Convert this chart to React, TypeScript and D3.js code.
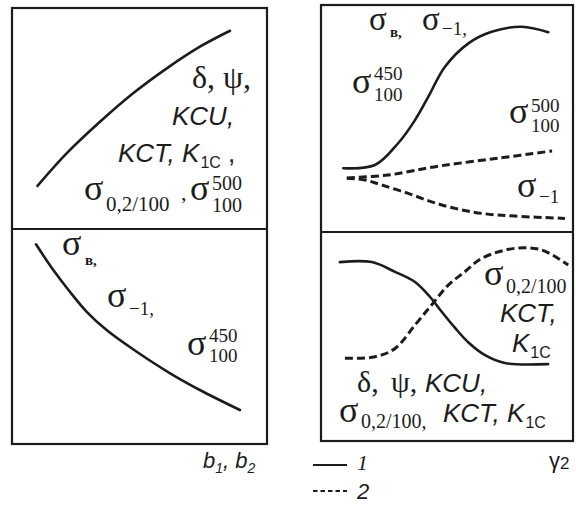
import React from 'react';
import * as d3 from 'd3';

const W = 576;
const H = 524;

// left panels: property vs b1, b2 (relative units 0..10)
const leftTopX = [1.0, 2.15, 3.45, 4.75, 6.07, 7.37, 8.55];
const leftTopY = [1.95, 3.43, 4.85, 6.14, 7.27, 8.25, 8.97];
const leftBotX = [0.94, 1.62, 2.27, 2.93, 3.71, 4.89, 6.2, 7.5, 8.94];
const leftBotY = [9.29, 8.09, 7.08, 6.15, 5.3, 4.29, 3.29, 2.43, 1.58];

// right panels: property vs gamma2
const rTopSolidX = [0.885, 2.14, 3.06, 3.73, 4.26, 4.92, 5.85, 6.77, 7.96, 9.02];
const rTopSolidY = [2.81, 2.95, 3.91, 4.93, 5.96, 7.28, 8.31, 8.82, 9.04, 8.8];
const rTopDashAX = [1.03, 2.66, 4.72, 7.1, 9.17];
const rTopDashAY = [2.38, 2.51, 2.91, 3.26, 3.57];
const rTopDashBX = [1.02, 1.75, 2.41, 3.46, 4.39, 5.32, 6.38, 7.7, 9.68];
const rTopDashBY = [2.37, 2.29, 2.07, 1.7, 1.33, 1.04, 0.82, 0.7, 0.6];
const rBotSolidX = [0.75, 2.02, 2.94, 3.73, 4.33, 4.8, 5.32, 5.83, 6.51, 7.3, 9.01];
const rBotSolidY = [8.56, 8.56, 8.09, 7.61, 6.89, 6.17, 5.41, 4.74, 4.11, 3.73, 3.68];
const rBotDashX = [0.95, 2.14, 2.94, 3.73, 4.39, 5.05, 5.71, 6.38, 7.7, 8.76, 9.81];
const rBotDashY = [3.96, 4.03, 4.43, 5.55, 6.51, 7.46, 8.1, 8.74, 9.22, 9.14, 8.42];

const legendLabels = ['1', '2'];

const INK = '#1c1c1c';
const SERIF = '"Liberation Serif", "DejaVu Serif", serif';
const SANS = '"Liberation Sans", Arial, sans-serif';

const xL = d3.scaleLinear().domain([0, 10]).range([12, 267]);
const yLT = d3.scaleLinear().domain([0, 10]).range([229, 8]);
const yLB = d3.scaleLinear().domain([0, 10]).range([444, 229]);
const xR = d3.scaleLinear().domain([0, 10]).range([321, 573]);
const yRT = d3.scaleLinear().domain([0, 10]).range([232, 5]);
const yRB = d3.scaleLinear().domain([0, 10]).range([441, 232]);

function path(xs: number[], ys: number[], sx: any, sy: any) {
  const pts = xs.map((x, i) => [x, ys[i]] as [number, number]);
  return d3.line<[number, number]>()
    .x(d => sx(d[0]))
    .y(d => sy(d[1]))
    .curve(d3.curveCatmullRom.alpha(0.5))(pts) || '';
}

// serif text (digits, delta, psi)
const S = ({ x, y, size = 30, bold = false, children }: any) => (
  <text x={x} y={y} fontFamily={SERIF} fontSize={size} fontWeight={bold ? 'bold' : 'normal'} fill={INK}>{children}</text>
);
// sigma with optional sub/superscript, x = left of glyph, y = baseline
const Sig = ({ x, y, sub, sup, size = 36, ss = 19, subDy = 8, supDy = -12, dx = 22 }: any) => (
  <g fontFamily={SERIF} fill={INK}>
    <text x={x} y={y} fontSize={size}>σ</text>
    {sup && <text x={x + dx} y={y + supDy} fontSize={ss}>{sup}</text>}
    {sub && <text x={x + dx} y={y + subDy} fontSize={ss}>{sub}</text>}
  </g>
);
// italic sans text (KCU, KCT, K1C)
const I = ({ x, y, size = 26, children }: any) => (
  <text x={x} y={y} fontFamily={SANS} fontStyle="italic" fontSize={size} fill={INK}>{children}</text>
);
const sub1C = <tspan fontStyle="normal" fontSize={16} dx={1} dy={6}>1C</tspan>;

export default function App() {
  const solid = { fill: 'none', stroke: INK, strokeWidth: 2.6, strokeLinecap: 'round' as const };
  const dashed = { ...solid, strokeWidth: 3, strokeDasharray: '8 4', strokeLinecap: 'butt' as const };

  return (
    <svg width={W} height={H} style={{ position: 'absolute', left: 0, top: 0, background: '#fff' }}>
      {/* frames */}
      <g fill="none" stroke={INK} strokeWidth={2.2}>
        <rect x={xL.range()[0]} y={yLT.range()[1]} width={xL.range()[1] - xL.range()[0]} height={yLB.range()[0] - yLT.range()[1]} />
        <line x1={xL.range()[0]} x2={xL.range()[1]} y1={yLT.range()[0]} y2={yLT.range()[0]} />
        <rect x={xR.range()[0]} y={yRT.range()[1]} width={xR.range()[1] - xR.range()[0]} height={yRB.range()[0] - yRT.range()[1]} />
        <line x1={xR.range()[0]} x2={xR.range()[1]} y1={yRT.range()[0]} y2={yRT.range()[0]} />
      </g>

      {/* curves */}
      <path d={path(leftTopX, leftTopY, xL, yLT)} {...solid} />
      <path d={path(leftBotX, leftBotY, xL, yLB)} {...solid} />
      <path d={path(rTopSolidX, rTopSolidY, xR, yRT)} {...solid} />
      <path d={path(rTopDashAX, rTopDashAY, xR, yRT)} {...dashed} />
      <path d={path(rTopDashBX, rTopDashBY, xR, yRT)} {...dashed} />
      <path d={path(rBotSolidX, rBotSolidY, xR, yRB)} {...solid} />
      <path d={path(rBotDashX, rBotDashY, xR, yRB)} {...dashed} />

      {/* left top labels */}
      <S x={192} y={88} size={32}>δ, ψ,</S>
      <I x={172} y={125}>KCU,</I>
      <I x={118} y={162}>KCT, K{sub1C}<tspan fontStyle="normal" dy={-6}> ,</tspan></I>
      <Sig x={84} y={200} sub="0,2/100" ss={21} dx={22} subDy={11} />
      <S x={181} y={200} size={22}>,</S>
      <Sig x={190} y={200} sup="500" sub="100" ss={20} supDy={-10} subDy={12} />

      {/* left bottom labels */}
      <Sig x={62} y={255} />
      <S x={85} y={265} size={15} bold>в,</S>
      <Sig x={107} y={307} sub="−1," subDy={8} />
      <Sig x={187} y={355} sup="450" sub="100" supDy={-13} subDy={7} />

      {/* right top labels */}
      <Sig x={369} y={30} size={33} dx={20} />
      <S x={390} y={37} size={15} bold>в,</S>
      <Sig x={422} y={30} size={33} dx={20} sub="−1," subDy={5} />
      <Sig x={352} y={93} sup="450" sub="100" supDy={-13} subDy={8} />
      <Sig x={509} y={123} sup="500" sub="100" supDy={-11} subDy={9} />
      <Sig x={517} y={197} sub="−1" subDy={6} />

      {/* right bottom labels */}
      <Sig x={484} y={285} sub="0,2/100" subDy={8} ss={20} />
      <I x={500} y={322}>KCT,</I>
      <I x={512} y={352}>K{sub1C}</I>
      <S x={357} y={392}>δ,</S>
      <S x={391} y={392}>ψ,</S>
      <I x={425} y={392}>KCU,</I>
      <Sig x={339} y={422} sub="0,2/100," subDy={6} ss={20} />
      <I x={443} y={422}>KCT, K{sub1C}</I>

      {/* axis names */}
      <text x={203} y={468} fontFamily={SANS} fontStyle="italic" fontSize={22} fill={INK}>
        b<tspan fontSize={14} dy={5}>1</tspan><tspan dy={-5}>, b</tspan><tspan fontSize={14} dy={5}>2</tspan>
      </text>
      <text x={549} y={468} fontFamily={SANS} fontSize={22} fill={INK}>
        γ<tspan fontSize={17} dy={1}>2</tspan>
      </text>

      {/* legend */}
      <line x1={313} x2={347} y1={465} y2={465} stroke={INK} strokeWidth={2} />
      <text x={357} y={470} fontFamily={SERIF} fontStyle="italic" fontSize={22} fill={INK}>{legendLabels[0]}</text>
      <line x1={313} x2={347} y1={491} y2={491} stroke={INK} strokeWidth={2} strokeDasharray="4.5 3" />
      <text x={357} y={499} fontFamily={SANS} fontStyle="italic" fontSize={22} fill={INK}>{legendLabels[1]}</text>
    </svg>
  );
}
